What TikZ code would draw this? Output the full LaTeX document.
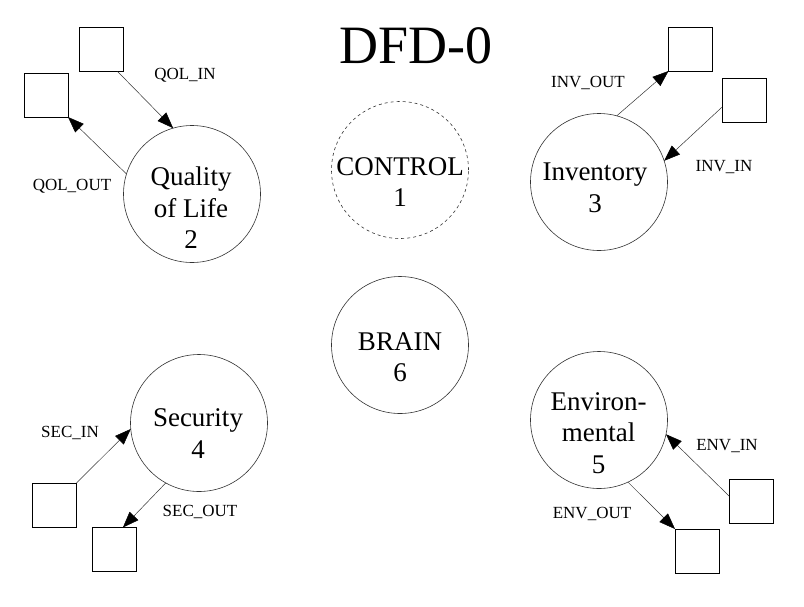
\documentclass[tikz,border=0pt]{standalone}
\usepackage{fontspec}
\setmainfont{Liberation Serif}
\usetikzlibrary{arrows.meta}

\begin{document}
\begin{tikzpicture}[x=1pt, y=-1pt,
    proc/.style={draw=black!80, line width=0.6pt, circle, minimum size=137pt, inner sep=0pt, outer sep=0pt},
    ptxt/.style={align=center, inner sep=0pt, font=\fontsize{27}{31.5}\selectfont},
    ext/.style={draw, line width=0.7pt, minimum size=44pt, inner sep=0pt, outer sep=0pt},
    lbl/.style={inner sep=0pt, font=\fontsize{17}{20}\selectfont},
    flow/.style={-{Triangle[length=16pt, width=12pt, color=black]}, line width=0.5pt, black!80}]
    \useasboundingbox (0,0) rectangle (804,606);

    \node [font=\fontsize{54}{60}\selectfont] (title) at (416,46) {DFD-0};

    \node [proc, dashed] (ctrl) at (400,170) {};
    \node [ptxt] (ctrltxt) at (400,182) {CONTROL\\1};
    \node [proc] (brain) at (400,345) {};
    \node [ptxt] (braintxt) at (400,357) {BRAIN\\6};

    \node [proc] (qol) at (192,194) {};
    \node [ptxt] (qoltxt) at (191,208) {Quality\\of Life\\2};
    \node [ext] (qolsrc) at (101,49.5) {};
    \node [ext] (qoldst) at (46,95) {};
    \draw [flow] (qolsrc.-53) -- (qol.106);
    \draw [flow] (qol.163) -- (qoldst.south east);
    \node [lbl] (qolin) at (185,75) {QOL\_IN};
    \node [lbl] (qolout) at (72,186) {QOL\_OUT};

    \node [proc] (inv) at (599,182) {};
    \node [ptxt] (invtxt) at (595,188) {Inventory\\3};
    \node [ext] (invdst) at (690.5,49) {};
    \node [ext] (invsrc) at (744,100) {};
    \draw [flow] (inv.75) -- (invdst.south west);
    \draw [flow] (invsrc.198) -- (inv.18);
    \node [lbl] (invout) at (588,83) {INV\_OUT};
    \node [lbl] (invin) at (724,167) {INV\_IN};

    \node [proc] (sec) at (199,423) {};
    \node [ptxt] (sectxt) at (198,433.5) {Security\\4};
    \node [ext] (secsrc) at (54.5,505) {};
    \node [ext] (secdst) at (114,549.5) {};
    \draw [flow] (secsrc.north east) -- (sec.185);
    \draw [flow] (sec.241) -- (secdst.68);
    \node [lbl] (secin) at (70,433) {SEC\_IN};
    \node [lbl] (secout) at (200,512) {SEC\_OUT};

    \node [proc] (env) at (599,420) {};
    \node [ptxt] (envtxt) at (598.5,433) {Environ-\\mental\\5};
    \node [ext] (envsrc) at (751,501) {};
    \node [ext] (envdst) at (697,551) {};
    \draw [flow] (envsrc.167) -- (env.-12);
    \draw [flow] (env.-65) -- (envdst.north west);
    \node [lbl] (envin) at (727,446) {ENV\_IN};
    \node [lbl] (envout) at (592,514) {ENV\_OUT};
\end{tikzpicture}
\end{document}
